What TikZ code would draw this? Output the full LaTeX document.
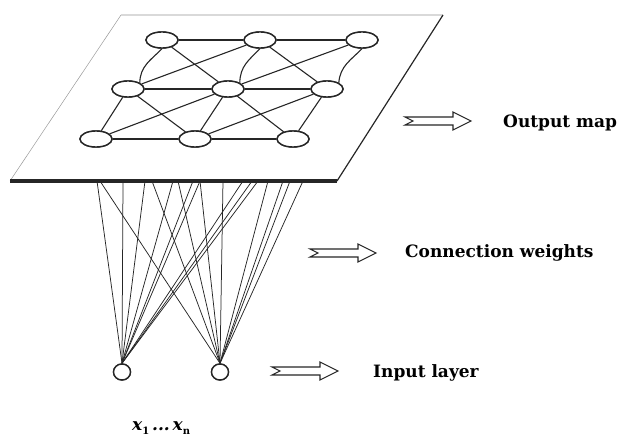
\documentclass[tikz,border=0pt]{standalone}
\usepackage{fontspec}
\setmainfont{DejaVu Serif}
\usetikzlibrary{shapes.geometric}
\tikzset{
  mapnode/.style={ellipse, draw=black!85, line width=1.4pt, fill=white, minimum width=32pt, minimum height=16pt, inner sep=0pt},
  innode/.style={ellipse, draw=black!85, line width=1.4pt, fill=white, minimum width=17pt, minimum height=16pt, inner sep=0pt},
  gridline/.style={draw=black!85, line width=1.1pt},
  wline/.style={draw=black!85, line width=0.75pt},
  lbl/.style={anchor=west, inner sep=0pt, font=\fontsize{17}{20}\selectfont\bfseries},
  harrow/.pic={\draw[black!85, line width=1.1pt, fill=white] (0,-4) -- (48,-4) -- (48,-9) -- (66,0) -- (48,9) -- (48,4) -- (0,4) -- (8,0) -- cycle;}
}
\begin{document}
\begin{tikzpicture}[x=1pt,y=-1pt]
\useasboundingbox (0,0) rectangle (622,441);
% plane
\draw[gray!80, line width=0.5pt] (10,181) -- (121,15);
\draw[gray!30, line width=1.2pt] (121,15) -- (443,15);
\draw[black!85, line width=1.2pt] (443,15) -- (337,181);
% input nodes and connection weights
\node[innode] (i1) at (122,372) {};
\node[innode] (i2) at (220,372) {};
\foreach \n/\x in {1/97,2/123,3/145,4/173,5/193,6/200,7/243,8/252,9/258}
  \coordinate (l\n) at (\x,181);
\foreach \n/\x in {1/100,2/152,3/178,4/200,5/223,6/268,7/283,8/290,9/303}
  \coordinate (r\n) at (\x,181);
\foreach \n in {1,...,9} {
  \draw[wline] (i1.north) -- (l\n);
  \draw[wline] (i2.north) -- (r\n);
}
\draw[black!85, line width=3.5pt] (10,181) -- (337,181);
% map nodes
\node[mapnode] (a11) at (162,40) {};
\node[mapnode] (a12) at (260,40) {};
\node[mapnode] (a13) at (362,40) {};
\node[mapnode] (a21) at (128,89) {};
\node[mapnode] (a22) at (228,89) {};
\node[mapnode] (a23) at (327,89) {};
\node[mapnode] (a31) at (96,139) {};
\node[mapnode] (a32) at (195,139) {};
\node[mapnode] (a33) at (293,139) {};
\draw[gridline] (a11) -- (a12);
\draw[gridline] (a12) -- (a13);
\draw[gridline] (a21) -- (a22);
\draw[gridline] (a22) -- (a23);
\draw[gridline] (a31) -- (a32);
\draw[gridline] (a32) -- (a33);
\draw[gridline] (a11.south) .. controls (151,60) and (140,66) .. (a21.north east);
\draw[gridline] (a12.south) .. controls (249,60) and (240,66) .. (a22.north east);
\draw[gridline] (a13.south) .. controls (351,60) and (340,66) .. (a23.north east);
\draw[gridline] (a11) -- (a22);
\draw[gridline] (a12) -- (a21);
\draw[gridline] (a12) -- (a23);
\draw[gridline] (a13) -- (a22);
\draw[gridline] (a21) -- (a31);
\draw[gridline] (a21) -- (a32);
\draw[gridline] (a22) -- (a31);
\draw[gridline] (a22) -- (a32);
\draw[gridline] (a22) -- (a33);
\draw[gridline] (a23) -- (a32);
\draw[gridline] (a23) -- (a33);
% redraw node outlines on top of the line ends
\foreach \m in {a11,a12,a13,a21,a22,a23,a31,a32,a33}
  \draw[black!85, line width=1.4pt, fill=white] (\m.center) ellipse [x radius=16pt, y radius=8pt];
\draw[black!85, line width=1.4pt, fill=white] (i1.center) ellipse [x radius=8.5pt, y radius=8pt];
\draw[black!85, line width=1.4pt, fill=white] (i2.center) ellipse [x radius=8.5pt, y radius=8pt];
% arrows
\pic at (405,121) {harrow};
\pic at (310,253) {harrow};
\pic at (272,371) {harrow};
% labels
\node[lbl] (t1) at (503,123) {Output map};
\node[lbl] (t2) at (405,253) {Connection weights};
\node[lbl] (t3) at (373,373) {Input layer};
\node[anchor=base west, inner sep=0pt, font=\fontsize{17}{20}\selectfont\bfseries\itshape] (t4) at (132,430) {x\raisebox{-4pt}{\fontsize{10}{12}\selectfont\upshape 1}\,...\,x\raisebox{-4pt}{\fontsize{10}{12}\selectfont\upshape n}};
\end{tikzpicture}
\end{document}
